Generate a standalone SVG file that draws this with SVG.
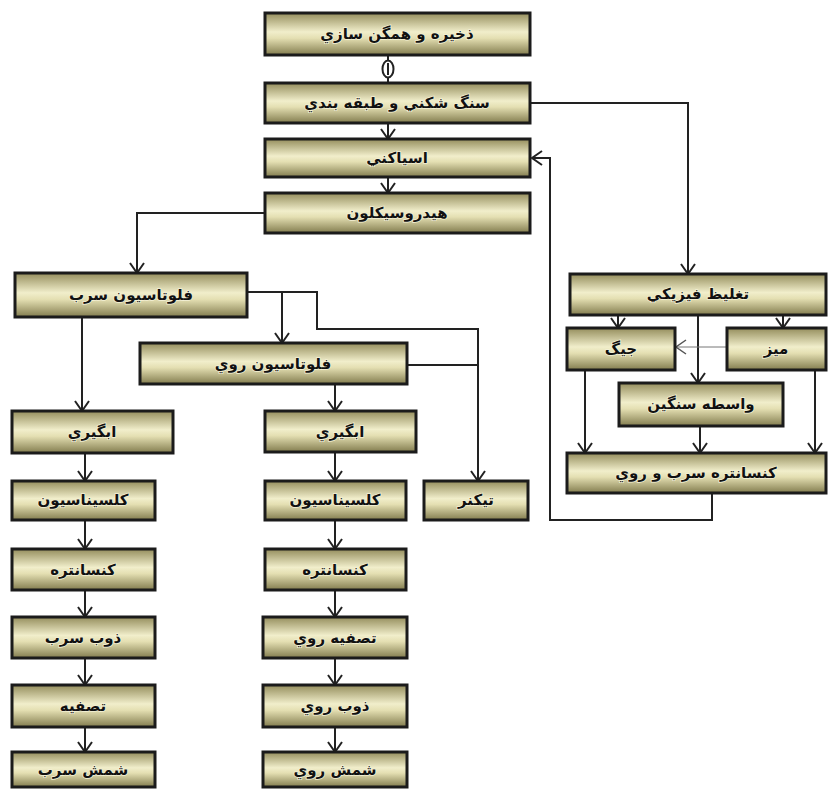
<svg xmlns="http://www.w3.org/2000/svg" width="828" height="789" viewBox="0 0 828 789">
<defs>
<linearGradient id="g" x1="0" y1="0" x2="0" y2="1">
<stop offset="0" stop-color="#948d5c"/>
<stop offset="0.45" stop-color="#f1eecb"/>
<stop offset="0.6" stop-color="#e4dfb2"/>
<stop offset="1" stop-color="#827c4e"/>
</linearGradient>
<marker id="a" viewBox="-1 -8 12 16" refX="10" refY="0" markerWidth="12" markerHeight="16" markerUnits="userSpaceOnUse" orient="auto">
<path d="M0,-7 L10,0 L0,7" fill="none" stroke="#222" stroke-width="2"/>
</marker>
<marker id="a2" viewBox="-1 -8 12 16" refX="10" refY="0" markerWidth="12" markerHeight="16" markerUnits="userSpaceOnUse" orient="auto">
<path d="M0,-7 L10,0 L0,7" fill="none" stroke="#555" stroke-width="1.5"/>
</marker>
</defs>
<style>
.b{fill:url(#g);stroke:#1b1b1b;stroke-width:3}
.t{font-family:"DejaVu Sans",sans-serif;font-weight:bold;font-size:15px;fill:#111;text-anchor:middle;dominant-baseline:central;stroke:#f3f0d6;stroke-width:1.5px;paint-order:stroke}
.c{fill:none;stroke:#222;stroke-width:2}
.ca{fill:none;stroke:#222;stroke-width:2;marker-end:url(#a)}
.cl{fill:none;stroke:#777;stroke-width:1;marker-end:url(#a2)}
</style>
<rect width="828" height="789" fill="#fff"/>
<g id="connectors">
<line class="c" x1="388" y1="55" x2="388" y2="83"/>
<ellipse cx="388" cy="69" rx="5.5" ry="8.5" fill="#fff" stroke="#222" stroke-width="2"/>
<line x1="388" y1="63" x2="388" y2="75" stroke="#222" stroke-width="2"/>
<line class="ca" x1="388" y1="123" x2="388" y2="139"/>
<line class="ca" x1="388" y1="177" x2="388" y2="193"/>
<polyline class="ca" points="530,103 688,103 688,274"/>
<polyline class="ca" points="712,493 712,520 550,520 550,158 532,158"/>
<polyline class="ca" points="265,213 137,213 137,273"/>
<line class="ca" x1="82" y1="317" x2="82" y2="411"/>
<polyline class="ca" points="247,292 317,292 317,329 478,329 478,481"/>
<line class="ca" x1="282" y1="292" x2="282" y2="343"/>
<line class="c" x1="407" y1="365" x2="478" y2="365"/>
<line class="ca" x1="335" y1="384" x2="335" y2="411"/>
<line class="ca" x1="85" y1="453" x2="85" y2="481"/>
<line class="ca" x1="85" y1="520" x2="85" y2="549"/>
<line class="ca" x1="85" y1="590" x2="85" y2="617"/>
<line class="ca" x1="85" y1="658" x2="85" y2="685"/>
<line class="ca" x1="85" y1="727" x2="85" y2="752"/>
<line class="ca" x1="335" y1="452" x2="335" y2="481"/>
<line class="ca" x1="335" y1="520" x2="335" y2="549"/>
<line class="ca" x1="335" y1="590" x2="335" y2="617"/>
<line class="ca" x1="335" y1="658" x2="335" y2="685"/>
<line class="ca" x1="335" y1="727" x2="335" y2="752"/>
<line class="ca" x1="618" y1="315" x2="618" y2="328"/>
<line class="ca" x1="783" y1="315" x2="783" y2="328"/>
<line class="ca" x1="698" y1="315" x2="698" y2="383"/>
<line class="cl" x1="727" y1="347" x2="676" y2="347"/>
<line class="ca" x1="585" y1="370" x2="585" y2="453"/>
<line class="ca" x1="700" y1="426" x2="700" y2="453"/>
<line class="ca" x1="815" y1="370" x2="815" y2="453"/>
</g>
<g id="n1"><rect class="b" x="265" y="13" width="265" height="42"/><text class="t" x="397" y="34">ذخیره و همگن سازي</text></g>
<g id="n2"><rect class="b" x="265" y="83" width="265" height="40"/><text class="t" x="397" y="103">سنگ شکني و طبقه بندي</text></g>
<g id="n3"><rect class="b" x="265" y="139" width="265" height="38"/><text class="t" x="397" y="158">اسیاکني</text></g>
<g id="n4"><rect class="b" x="265" y="193" width="265" height="40"/><text class="t" x="397" y="213">هیدروسیکلون</text></g>
<g id="n5"><rect class="b" x="15" y="273" width="232" height="44"/><text class="t" x="131" y="295">فلوتاسیون سرب</text></g>
<g id="n6"><rect class="b" x="140" y="343" width="267" height="41"/><text class="t" x="273" y="364">فلوتاسیون روي</text></g>
<g id="l1"><rect class="b" x="12" y="411" width="161" height="42"/><text class="t" x="92" y="432">ابگیري</text></g>
<g id="l2"><rect class="b" x="12" y="481" width="143" height="39"/><text class="t" x="83" y="500">کلسیناسیون</text></g>
<g id="l3"><rect class="b" x="12" y="549" width="143" height="41"/><text class="t" x="83" y="570">کنسانتره</text></g>
<g id="l4"><rect class="b" x="12" y="617" width="143" height="41"/><text class="t" x="83" y="638">ذوب سرب</text></g>
<g id="l5"><rect class="b" x="12" y="685" width="143" height="42"/><text class="t" x="83" y="706">تصفیه</text></g>
<g id="l6"><rect class="b" x="12" y="752" width="143" height="35"/><text class="t" x="83" y="770">شمش سرب</text></g>
<g id="m1"><rect class="b" x="265" y="411" width="151" height="41"/><text class="t" x="340" y="432">ابگیري</text></g>
<g id="m2"><rect class="b" x="265" y="481" width="141" height="39"/><text class="t" x="335" y="500">کلسیناسیون</text></g>
<g id="m3"><rect class="b" x="265" y="549" width="141" height="41"/><text class="t" x="335" y="570">کنسانتره</text></g>
<g id="m4"><rect class="b" x="263" y="617" width="144" height="41"/><text class="t" x="335" y="638">تصفیه روي</text></g>
<g id="m5"><rect class="b" x="263" y="685" width="144" height="42"/><text class="t" x="335" y="706">ذوب روي</text></g>
<g id="m6"><rect class="b" x="263" y="752" width="144" height="35"/><text class="t" x="335" y="770">شمش روي</text></g>
<g id="thickener"><rect class="b" x="424" y="481" width="104" height="39"/><text class="t" x="476" y="500">تیکنر</text></g>
<g id="r1"><rect class="b" x="570" y="274" width="256" height="41"/><text class="t" x="698" y="294">تغلیظ فیزیکي</text></g>
<g id="jig"><rect class="b" x="567" y="328" width="108" height="42"/><text class="t" x="621" y="349">جیگ</text></g>
<g id="table"><rect class="b" x="727" y="328" width="99" height="42"/><text class="t" x="776" y="349">میز</text></g>
<g id="hm"><rect class="b" x="619" y="383" width="164" height="43"/><text class="t" x="701" y="404">واسطه سنگین</text></g>
<g id="conc"><rect class="b" x="567" y="453" width="259" height="40"/><text class="t" x="696" y="473">کنسانتره سرب و روي</text></g>
</svg>
